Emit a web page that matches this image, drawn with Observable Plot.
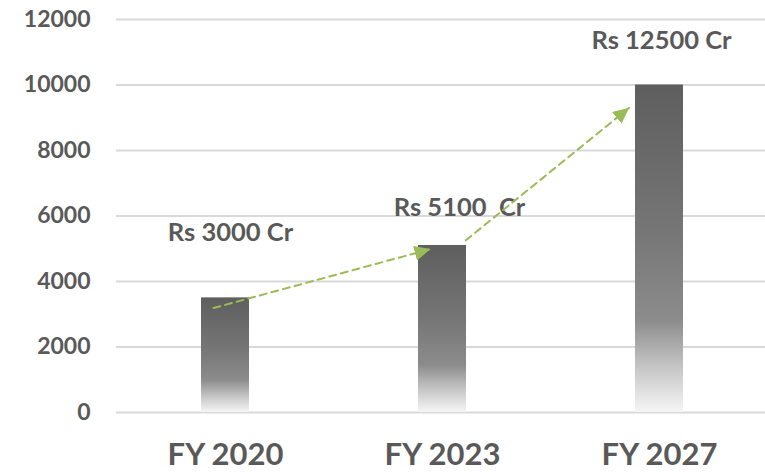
<!DOCTYPE html>
<html>
<head>
<meta charset="utf-8">
<script src="https://cdn.jsdelivr.net/npm/d3@7"></script>
<script src="https://cdn.jsdelivr.net/npm/@observablehq/plot@0.6"></script>
<style>
  html, body { margin: 0; padding: 0; background: #ffffff; }
  svg text { white-space: pre; }
</style>
</head>
<body>
<div id="chart"></div>
<script>
// ---- data ----
const categories = ["FY 2020", "FY 2023", "FY 2027"];
const values = [3500, 5100, 10000];
const labels = ["Rs 3000 Cr", "Rs 5100  Cr", "Rs 12500 Cr"];
const labelY = [5500, 6260, 11360];
const yTicks = [0, 2000, 4000, 6000, 8000, 10000, 12000];
// trend arrows (from category/value to category/value)
const arrowFrom = ["FY 2020", "FY 2023"];
const arrowTo = ["FY 2023", "FY 2027"];
const arrowY1 = [3190, 4680];
const arrowY2 = [4990, 10055];

const bars = categories.map((c, i) => ({cat: c, value: values[i]}));
const texts = categories.map((c, i) => ({cat: c, y: labelY[i], label: labels[i]}));
const arrows = arrowFrom.map((c, i) => ({x1: c, x2: arrowTo[i], y1: arrowY1[i], y2: arrowY2[i]}));

const SVGNS = "http://www.w3.org/2000/svg";
function defsMark() {
  const defs = document.createElementNS(SVGNS, "defs");
  const g = document.createElementNS(SVGNS, "linearGradient");
  g.setAttribute("id", "barGrad");
  g.setAttribute("x1", "0"); g.setAttribute("y1", "0");
  g.setAttribute("x2", "0"); g.setAttribute("y2", "1");
  [[0, "#5e5e5e"], [0.45, "#767676"], [0.72, "#8c8c8c"], [0.86, "#c4c4c4"], [1, "#f6f6f6"]].forEach(([o, c]) => {
    const s = document.createElementNS(SVGNS, "stop");
    s.setAttribute("offset", o);
    s.setAttribute("stop-color", c);
    g.appendChild(s);
  });
  defs.appendChild(g);
  const m = document.createElementNS(SVGNS, "marker");
  m.setAttribute("id", "greenHead");
  m.setAttribute("markerUnits", "userSpaceOnUse");
  m.setAttribute("viewBox", "0 0 16 15");
  m.setAttribute("markerWidth", "16");
  m.setAttribute("markerHeight", "15");
  m.setAttribute("refX", "16");
  m.setAttribute("refY", "7.5");
  m.setAttribute("orient", "auto");
  const p = document.createElementNS(SVGNS, "path");
  p.setAttribute("d", "M0,0L16,7.5L0,15Z");
  p.setAttribute("fill", "#9bbb59");
  m.appendChild(p);
  defs.appendChild(m);
  return defs;
}

const labelStyle = {x: "cat", y: "y", text: "label", fontSize: 25.5, fontWeight: "bold", fill: "#595959"};
const labelDx = [5, 17, 2];

const chart = Plot.plot({
  width: 765,
  height: 472,
  marginTop: 19,
  marginBottom: 60,
  marginLeft: 116,
  marginRight: -3,
  style: {fontFamily: "Lato, 'Open Sans', sans-serif", background: "#ffffff"},
  x: {domain: categories, paddingInner: 0.78, paddingOuter: 0.39, label: null},
  y: {domain: [0, 12000], label: null},
  marks: [
    defsMark,
    Plot.gridY(yTicks, {stroke: "#d9d9d9", strokeOpacity: 1, strokeWidth: 2}),
    Plot.barY(bars, {x: "cat", y: "value", fill: "url(#barGrad)"}),
    Plot.axisY(yTicks, {tickSize: 0, tickPadding: 26, tickFormat: "d", fontSize: 23, fontWeight: "bold", fill: "#595959", label: null}),
    Plot.axisX({tickSize: 0, tickPadding: 30, fontSize: 31, fontWeight: "bold", fill: "#595959", label: null}),
    ...texts.map((t, i) => Plot.text([t], {...labelStyle, dx: labelDx[i]})),
    Plot.arrow([arrows[0]], {x1: "x1", x2: "x2", y1: "y1", y2: "y2", dx: -12, headLength: 0, stroke: "#9bbb59", strokeWidth: 2, strokeDasharray: "7,5"}),
    Plot.arrow([arrows[1]], {x1: "x1", x2: "x2", y1: "y1", y2: "y2", insetStart: 30, insetEnd: 39, headLength: 0, stroke: "#9bbb59", strokeWidth: 2, strokeDasharray: "7,5"})
  ]
});
chart.querySelectorAll('g[aria-label="arrow"] path').forEach(p => p.setAttribute("marker-end", "url(#greenHead)"));
document.getElementById("chart").appendChild(chart);
</script>
</body>
</html>
